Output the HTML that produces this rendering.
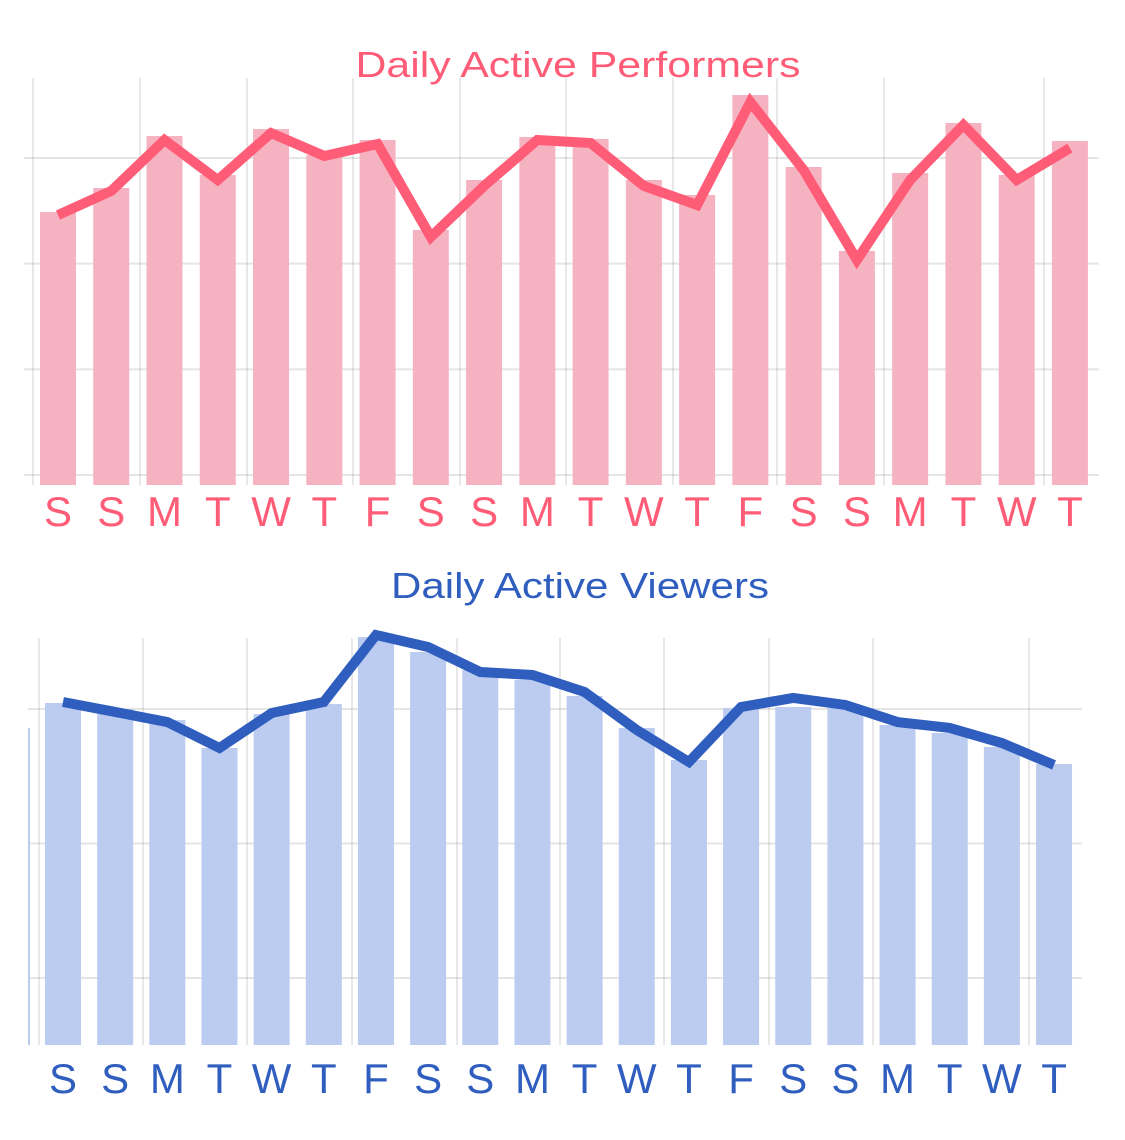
<!DOCTYPE html>
<html><head><meta charset="utf-8"><style>
body{margin:0;background:#fff}
svg{display:block;font-family:"Liberation Sans",sans-serif}
</style></head><body>
<svg id="c" width="1125" height="1140" xmlns="http://www.w3.org/2000/svg"></svg>
<script>
const days = ["S","S","M","T","W","T","F","S","S","M","T","W","T","F","S","S","M","T","W","T"];
const perfBars = [2489,2716,3208,2839,3274,3028,3170,2319,2792,3199,3180,2792,2650,3596,2915,2120,2858,3331,2839,3161];
const perfLine = [2460,2688,3170,2792,3236,3019,3132,2252,2735,3170,3142,2735,2555,3530,2886,2035,2792,3312,2792,3094];
const viewBars = [3045,3000,2918,2710,2963,3037,3535,3424,3290,3216,3097,2859,2621,3007,3015,3007,2881,2822,2718,2591];
const viewLine = [3052,2978,2903,2710,2970,3052,3550,3461,3275,3253,3126,2844,2606,3015,3082,3030,2903,2859,2747,2584];
const gridVals = [0,1000,2000,3000];

const NS="http://www.w3.org/2000/svg";
const svg=document.getElementById('c');
function mk(tag,attrs,parent){const e=document.createElementNS(NS,tag);for(const k in attrs)e.setAttribute(k,attrs[k]);(parent||svg).appendChild(e);return e;}

function chart(cfg){
  const g=mk('g',{});
  
  
  const y=v=>cfg.zeroY - v*cfg.unit;
  const x=i=>cfg.x0 + i*cfg.step;
  gridVals.forEach(v=>{
    const yy=y(v); if(yy<cfg.top||yy>cfg.base+2) return;
    const l=mk('line',{x1:cfg.gx1,x2:cfg.gx2,y1:yy,y2:yy,stroke:'#000','stroke-opacity':0.1,'stroke-width':2},g);
    
    
  });
  cfg.vlines.forEach(vx=>{
    const l=mk('line',{x1:vx,x2:vx,y1:cfg.top,y2:cfg.base,stroke:'#000','stroke-opacity':0.09,'stroke-width':2},g);
    
    
  });
  if(cfg.edge){
    const r=mk('rect',{x:cfg.edge[0],y:cfg.edge[1],width:2,height:cfg.base-cfg.edge[1],fill:cfg.barColor},g);
    
    
  }
  cfg.bars.forEach((v,i)=>{
    const t=y(v);
    const r=mk('rect',{x:x(i)-18,y:t,width:36,height:cfg.base-t,fill:cfg.barColor},g);
    
    
  });
  const pts=cfg.line.map((v,i)=>x(i)+','+y(v)).join(' ');
  const pl=mk('polyline',{points:pts,fill:'none',stroke:cfg.color,'stroke-width':10,'stroke-linejoin':'miter','stroke-miterlimit':3},g);
  
  
  days.forEach((d,i)=>{
    const t=mk('text',{x:x(i),y:cfg.labelY,'text-anchor':'middle','font-size':42,fill:cfg.color},g);
    t.textContent=d;
    
    
  });
  const tt=mk('text',{x:cfg.titleX,y:cfg.titleY,'text-anchor':'middle','font-size':36,fill:cfg.color,textLength:cfg.titleW,lengthAdjust:'spacingAndGlyphs'},g);
  tt.textContent=cfg.title;
  
  
}

chart({name:'performers-chart',title:'Daily Active Performers',color:'#ff5c77',barColor:'#f5b3c2',
  bars:perfBars,line:perfLine,
  zeroY:475,unit:0.10567,base:485,top:78,x0:58,step:53.26,gx1:24,gx2:1099,
  vlines:[33,140,247,353,460,566,673,777,884,1044],labelY:526,titleX:578,titleY:77,titleW:445});
chart({name:'viewers-chart',title:'Daily Active Viewers',color:'#2f5ebf',barColor:'#bccbf0',
  bars:viewBars,line:viewLine,
  zeroY:1112.5,unit:0.1345,base:1045,top:638,x0:63,step:52.16,gx1:28,gx2:1082,
  vlines:[39,143,247,352,457,560,664,769,873,1029],edge:[28,728],labelY:1093,titleX:580,titleY:598,titleW:378});
</script>
</body></html>
